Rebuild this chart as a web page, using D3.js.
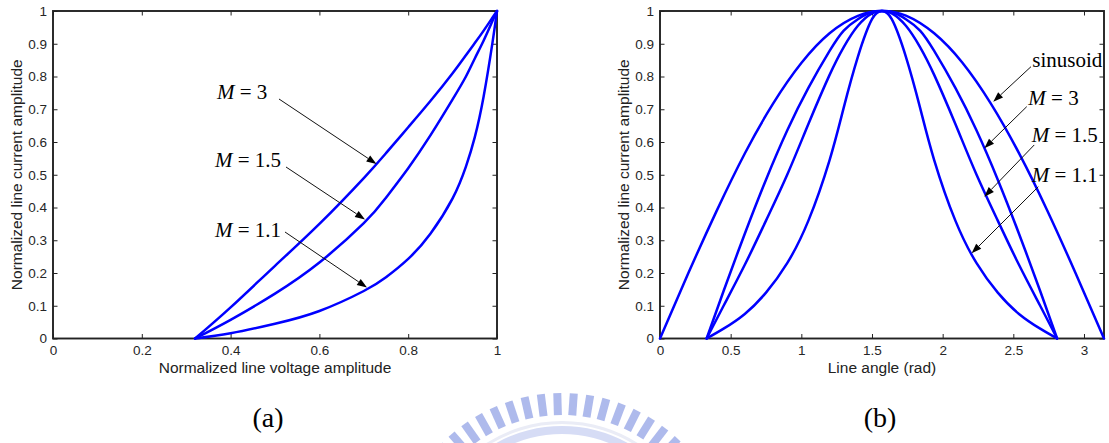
<!DOCTYPE html>
<html><head><meta charset="utf-8">
<script src="https://cdn.jsdelivr.net/npm/d3@7"></script>
<style>body{margin:0;background:#fff;} svg{display:block;}</style>
</head><body>
<svg id="c" width="1109" height="443"></svg>
<script>
// ---------- data ----------
// panel (a): normalized line current vs normalized line voltage amplitude
const voltage    = [0.32, 0.4, 0.5, 0.6, 0.7, 0.75, 0.8, 0.85, 0.9, 0.93, 0.95, 0.97, 0.99, 1.0];
const currentM3  = [0, 0.095, 0.222, 0.350, 0.490, 0.566, 0.645, 0.725, 0.810, 0.865, 0.902, 0.940, 0.980, 1];
const currentM15 = [0, 0.057, 0.137, 0.232, 0.352, 0.430, 0.520, 0.620, 0.730, 0.800, 0.855, 0.910, 0.970, 1];
const currentM11 = [0, 0.016, 0.045, 0.084, 0.145, 0.187, 0.243, 0.320, 0.428, 0.525, 0.615, 0.740, 0.905, 1];

// panel (b): normalized line current vs line angle (rad)
const angleM     = [0.33, 0.45, 0.6, 0.75, 0.9, 1.05, 1.2, 1.3, 1.4, 1.5, 1.57, 1.64, 1.74, 1.84, 1.94, 2.09, 2.24, 2.39, 2.54, 2.69, 2.81];
const angleCurM3  = [0, 0.145, 0.32, 0.485, 0.635, 0.765, 0.878, 0.94, 0.975, 0.997, 1, 0.997, 0.975, 0.94, 0.878, 0.765, 0.635, 0.485, 0.32, 0.145, 0];
const angleCurM15 = [0, 0.10, 0.225, 0.36, 0.50, 0.655, 0.805, 0.89, 0.955, 0.993, 1, 0.993, 0.955, 0.89, 0.805, 0.655, 0.50, 0.36, 0.225, 0.10, 0];
const angleCurM11 = [0, 0.03, 0.075, 0.14, 0.23, 0.36, 0.545, 0.705, 0.86, 0.975, 1, 0.975, 0.86, 0.705, 0.545, 0.36, 0.23, 0.14, 0.075, 0.03, 0];
const angleSin   = [0, 0.2, 0.4, 0.6, 0.8, 1.0, 1.2, 1.4, 1.57, 1.74, 1.94, 2.14, 2.34, 2.54, 2.74, 2.94, 3.1416];
const sinusoid   = [0, 0.199, 0.389, 0.565, 0.717, 0.841, 0.932, 0.985, 1, 0.986, 0.932, 0.842, 0.718, 0.566, 0.391, 0.2, 0];

// ticks
const xTicksA  = [0, 0.2, 0.4, 0.6, 0.8, 1];
const xLabelsA = ["0", "0.2", "0.4", "0.6", "0.8", "1"];
const xTicksB  = [0, 0.5, 1, 1.5, 2, 2.5, 3];
const xLabelsB = ["0", "0.5", "1", "1.5", "2", "2.5", "3"];
const yTicks   = [0, 0.1, 0.2, 0.3, 0.4, 0.5, 0.6, 0.7, 0.8, 0.9, 1];
const yLabels  = ["0", "0.1", "0.2", "0.3", "0.4", "0.5", "0.6", "0.7", "0.8", "0.9", "1"];

// annotations (in data units)
const annA = [
  {label: "3",   tx: 0.3694, ty: 0.7298, ax0: 0.509,  ay0: 0.7313, ax1: 0.7286, ay1: 0.5328},
  {label: "1.5", tx: 0.3649, ty: 0.5237, ax0: 0.5248, ay0: 0.5237, ax1: 0.7027, ay1: 0.3634},
  {label: "1.1", tx: 0.3649, ty: 0.3099, ax0: 0.5225, ay0: 0.3252, ax1: 0.7072, ay1: 0.1557}
];
const annB = [
  {label: null,  tx: 2.634, ty: 0.829, ax0: 2.625, ay0: 0.830,  ax1: 2.358, ay1: 0.723},
  {label: "3",   tx: 2.606, ty: 0.713, ax0: 2.595, ay0: 0.708,  ax1: 2.295, ay1: 0.581},
  {label: "1.5", tx: 2.630, ty: 0.599, ax0: 2.648, ay0: 0.591,  ax1: 2.295, ay1: 0.433},
  {label: "1.1", tx: 2.630, ty: 0.479, ax0: 2.677, ay0: 0.4635, ax1: 2.205, ay1: 0.260}
];

// ---------- drawing ----------
const svg = d3.select("#c");
const yTop = 11, yBot = 338.5;
const SANS = "'Liberation Sans', Arial, Helvetica, sans-serif";
const SERIF = "'Liberation Serif', 'Times New Roman', serif";
const BLUE = "#0000ff";

// watermark (decorative, faded logo)
(function watermark(){
  const g = svg.append("g").attr("opacity", 0.75);
  const cx = 562, cy = 562, rOut = 169, rIn = 147;
  for (let a = -52; a <= 52; a += 5.6) {
    g.append("rect")
      .attr("x", -4).attr("y", -rOut).attr("width", 8).attr("height", rOut - rIn)
      .attr("fill", "#93a3e6")
      .attr("transform", `translate(${cx},${cy}) rotate(${a})`);
  }
  const arc = d3.arc().innerRadius(128).outerRadius(136).startAngle(-1.0).endAngle(1.0);
  g.append("path").attr("d", arc()).attr("transform", `translate(${cx},${cy})`).attr("fill", "#c9d1f2");
  const arc2 = d3.arc().innerRadius(138).outerRadius(141).startAngle(-0.6).endAngle(0.6);
  g.append("path").attr("d", arc2()).attr("transform", `translate(${cx},${cy})`).attr("fill", "#e3e6f3");
})();

function drawPanel(opt) {
  const x = d3.scaleLinear().domain(opt.xDomain).range([opt.x0, opt.x1]);
  const y = d3.scaleLinear().domain([0, 1]).range([yBot, yTop]);
  const g = svg.append("g");

  const styleAxis = sel => {
    sel.select(".domain").remove();
    sel.selectAll(".tick line").attr("stroke", "#222").attr("stroke-width", 1);
    sel.selectAll(".tick text").attr("fill", "#262626").attr("font-family", SANS).attr("font-size", 13.5);
  };
  g.append("g").attr("transform", `translate(0,${yBot})`)
    .call(d3.axisBottom(x).tickValues(opt.xTicks).tickFormat((d, i) => opt.xLabels[i]).tickSize(-4.5).tickPadding(7.3))
    .call(styleAxis);
  g.append("g").attr("transform", `translate(0,${yTop})`)
    .call(d3.axisTop(x).tickValues(opt.xTicks).tickFormat("").tickSize(-4.5))
    .call(styleAxis);
  g.append("g").attr("transform", `translate(${opt.x0},0)`)
    .call(d3.axisLeft(y).tickValues(yTicks).tickFormat((d, i) => yLabels[i]).tickSize(-4.5).tickPadding(6))
    .call(styleAxis);
  g.append("g").attr("transform", `translate(${opt.x1},0)`)
    .call(d3.axisRight(y).tickValues(yTicks).tickFormat("").tickSize(-4.5))
    .call(styleAxis);

  g.append("rect").attr("x", opt.x0).attr("y", yTop)
    .attr("width", opt.x1 - opt.x0).attr("height", yBot - yTop)
    .attr("fill", "none").attr("stroke", "#222").attr("stroke-width", 1.9);

  // axis titles
  g.append("text").attr("x", (opt.x0 + opt.x1) / 2).attr("y", 373)
    .attr("text-anchor", "middle").attr("font-family", SANS).attr("font-size", 15.5).attr("fill", "#222")
    .text(opt.xTitle);
  g.append("text").attr("transform", `translate(${opt.yTitleX},${(yTop + yBot) / 2}) rotate(-90)`)
    .attr("text-anchor", "middle").attr("font-family", SANS).attr("font-size", 15.5).attr("fill", "#222")
    .text("Normalized line current amplitude");

  // curves
  const line = d3.line().x(d => x(d[0])).y(d => Math.max(yTop, y(d[1]))).curve(d3.curveNatural);
  opt.series.forEach(s => {
    const pts = s.xs.map((v, i) => [v, s.ys[i]]);
    g.append("path").attr("d", line(pts)).attr("fill", "none")
      .attr("stroke", BLUE).attr("stroke-width", 2.5).attr("stroke-linejoin", "round").attr("stroke-linecap", "round");
  });

  // annotations
  opt.ann.forEach(a => {
    const t = g.append("text").attr("x", x(a.tx)).attr("y", y(a.ty))
      .attr("font-family", SERIF).attr("font-size", 21).attr("fill", "#000")
      .style("white-space", "pre");
    if (a.label === null) {
      t.text("sinusoid");
    } else {
      t.append("tspan").attr("font-style", "italic").text("M");
      t.append("tspan").text(" = " + a.label);
    }
    const X0 = x(a.ax0), Y0 = y(a.ay0), X1 = x(a.ax1), Y1 = y(a.ay1);
    const dx = X1 - X0, dy = Y1 - Y0, L = Math.hypot(dx, dy);
    const ux = dx / L, uy = dy / L, hl = 10, hw = 3.6;
    const bx = X1 - ux * hl, by = Y1 - uy * hl;
    g.append("line").attr("x1", X0).attr("y1", Y0).attr("x2", bx).attr("y2", by)
      .attr("stroke", "#111").attr("stroke-width", 1);
    g.append("path")
      .attr("d", `M${X1},${Y1}L${bx - uy * hw},${by + ux * hw}L${bx + uy * hw},${by - ux * hw}Z`)
      .attr("fill", "#000");
  });

  // panel caption
  g.append("text").attr("x", opt.capX).attr("y", 427).attr("text-anchor", "middle")
    .attr("font-family", SERIF).attr("font-size", 28).attr("fill", "#000").text(opt.caption);
}

drawPanel({
  x0: 53, x1: 497, xDomain: [0, 1], xTicks: xTicksA, xLabels: xLabelsA,
  xTitle: "Normalized line voltage amplitude", yTitleX: 21.5,
  series: [
    {xs: voltage, ys: currentM3},
    {xs: voltage, ys: currentM15},
    {xs: voltage, ys: currentM11}
  ],
  ann: annA, caption: "(a)", capX: 268
});

drawPanel({
  x0: 660, x1: 1104, xDomain: [0, Math.PI], xTicks: xTicksB, xLabels: xLabelsB,
  xTitle: "Line angle (rad)", yTitleX: 629,
  series: [
    {xs: angleSin, ys: sinusoid},
    {xs: angleM, ys: angleCurM3},
    {xs: angleM, ys: angleCurM15},
    {xs: angleM, ys: angleCurM11}
  ],
  ann: annB, caption: "(b)", capX: 880
});
</script>
</body></html>
